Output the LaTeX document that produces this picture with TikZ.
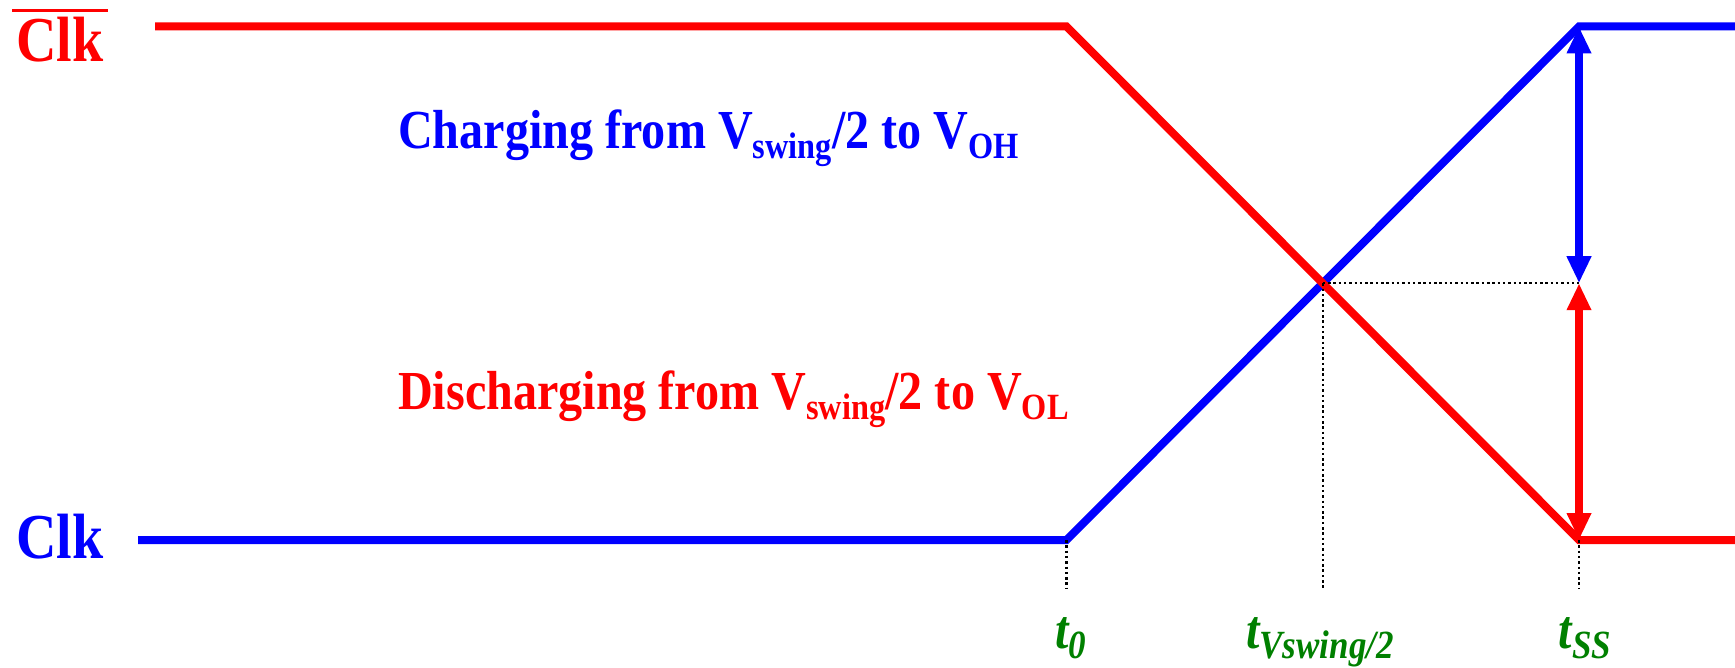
\documentclass[tikz,border=0pt]{standalone}
\usepackage{fontspec}
\setmainfont{Liberation Serif}[FakeStretch=0.875]
\usetikzlibrary{arrows.meta,calc}
\definecolor{pgreen}{RGB}{0,128,0}
\newcommand{\subtxt}[1]{\raisebox{-10pt}{\fontsize{37}{37}\selectfont #1}}
\newcommand{\tsub}[1]{\raisebox{-10pt}{\fontsize{40}{40}\selectfont #1}}
\begin{document}
\begin{tikzpicture}[x=1pt,y=-1pt,
  wave/.style={line width=8pt, line join=miter, line cap=butt},
  dbl/.style={line width=8pt, {Triangle[width=23pt,length=27pt]}-{Triangle[width=23pt,length=27pt]}},
  guide/.style={line width=2.5pt, dash pattern=on 2.5pt off 2.8pt, black},
  lbl/.style={inner sep=0pt, font=\bfseries\fontsize{55}{55}\selectfont},
  clklbl/.style={inner sep=0pt, font=\bfseries\fontsize{64}{64}\selectfont, anchor=base west},
  tlbl/.style={inner sep=0pt, text=pgreen, font=\bfseries\itshape\fontsize{55}{55}\selectfont, anchor=base}]
\useasboundingbox (0,0) rectangle (1735,668);
% coordinates
\coordinate (rs) at (155,26.5);
\coordinate (r1) at (1066.5,26.5);
\coordinate (r2) at (1579,540);
\coordinate (re) at (1735,540);
\coordinate (bs) at (138,540);
\coordinate (b1) at (1066.5,540);
\coordinate (b2) at (1579,26.5);
\coordinate (be) at (1735,26.5);
\coordinate (cx) at ($(r1)!0.5!(r2)$);
\coordinate (mid) at (1579,283.25);
\coordinate (d0) at (1066.5,588);
\coordinate (dm) at (cx |- d0);
\coordinate (ds) at (1579,588);
% waveforms
\draw[wave, blue] (bs) -- (b1) -- (b2) -- (be);
\draw[wave, red] (rs) -- (r1) -- (r2) -- (re);
% guides
\draw[guide] (b1) -- (d0);
\draw[guide] (cx) -- (dm);
\draw[guide] (r2) -- (ds);
\draw[guide] (cx) -- (mid);
% double arrows
\draw[dbl, blue] (mid) -- (b2);
\draw[dbl, red] (mid) -- (r2);
% labels
\node[clklbl, text=red] (clkbar) at (16,62) {Clk};
\draw[red, line width=3pt] ([xshift=-4pt,yshift=7pt]clkbar.north west) -- ([xshift=4pt,yshift=7pt]clkbar.north east);
\node[clklbl, text=blue] (clk) at (16,558) {Clk};
\node[lbl, text=blue, anchor=base west] (chg) at (398,149) {Charging from V\subtxt{swing}/2 to V\subtxt{OH}};
\node[lbl, text=red, anchor=base west] (dchg) at (398,409) {Discharging from V\subtxt{swing}/2 to V\subtxt{OL}};
\node[tlbl] (t0) at (1071,648) {t\tsub{0}};
\node[tlbl] (tv) at (1320,648) {t\tsub{Vswing/2}};
\node[tlbl] (tss) at (1585,648) {t\tsub{SS}};
\end{tikzpicture}
\end{document}
